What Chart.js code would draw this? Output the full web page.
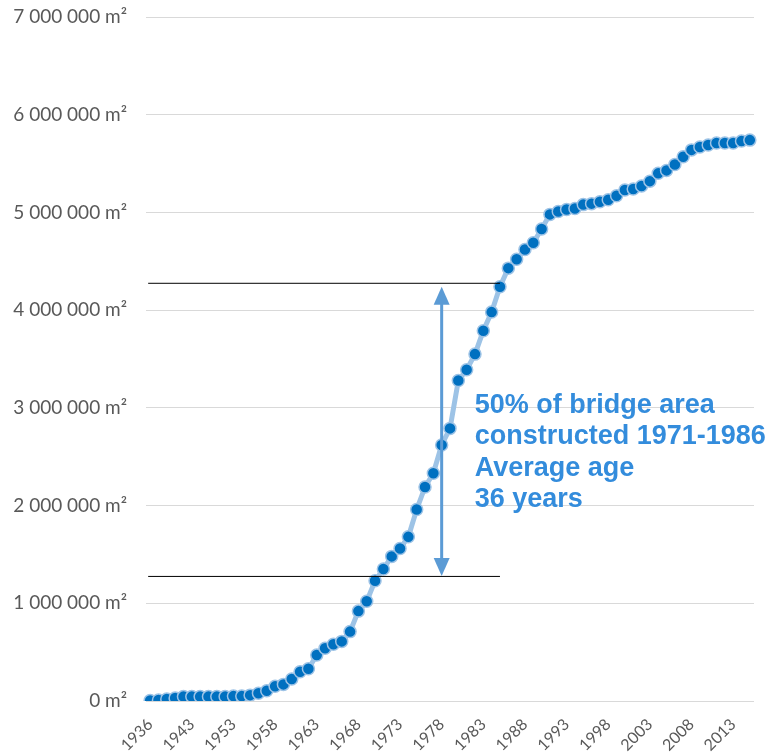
<!DOCTYPE html>
<html>
<head>
<meta charset="utf-8">
<script src="https://cdn.jsdelivr.net/npm/chart.js@4"></script>
<style>
  body { margin: 0; background: #fff; }
  #wrap { width: 765px; height: 755px; }
</style>
</head>
<body>
<div id="wrap"><canvas id="grafico" width="765" height="755"></canvas></div>
<script>
// years (only years with construction before 1953)
const years = [
  '1936', '1937', '1938', '1940', '1942', '1943', '1945', '1947', '1949', '1951',
  '1953', '1954', '1955', '1956', '1957', '1958', '1959', '1960', '1961', '1962',
  '1963', '1964', '1965', '1966', '1967', '1968', '1969', '1970', '1971', '1972',
  '1973', '1974', '1975', '1976', '1977', '1978', '1979', '1980', '1981', '1982',
  '1983', '1984', '1985', '1986', '1987', '1988', '1989', '1990', '1991', '1992',
  '1993', '1994', '1995', '1996', '1997', '1998', '1999', '2000', '2001', '2002',
  '2003', '2004', '2005', '2006', '2007', '2008', '2009', '2010', '2011', '2012',
  '2013', '2014', '2015'
];

// cumulative bridge area, m²
const areaM2 = [
  5000, 10000, 20000, 30000, 45000, 45000, 45000, 45000, 45000, 45000,
  50000, 50000, 60000, 80000, 105000, 150000, 170000, 225000, 300000, 330000,
  470000, 540000, 580000, 610000, 710000, 920000, 1020000, 1230000, 1350000, 1480000,
  1560000, 1680000, 1960000, 2190000, 2330000, 2620000, 2790000, 3280000, 3390000, 3550000,
  3790000, 3980000, 4240000, 4430000, 4520000, 4620000, 4690000, 4830000, 4980000, 5010000,
  5030000, 5040000, 5080000, 5090000, 5110000, 5130000, 5170000, 5230000, 5240000, 5270000,
  5320000, 5400000, 5430000, 5490000, 5570000, 5640000, 5670000, 5690000, 5710000, 5710000,
  5710000, 5730000, 5740000
];

const yTicks = [0, 1000000, 2000000, 3000000, 4000000, 5000000, 6000000, 7000000];

const noteLines = ['50% of bridge area', 'constructed 1971-1986', 'Average age', '36 years'];
const lowLevel = 1280000;
const highLevel = 4280000;

function fmtArea(v) {
  return String(v).replace(/\B(?=(\d{3})+(?!\d))/g, ' ') + ' m²';
}

function drawHead(ctx, x, y, dir) {
  ctx.beginPath();
  ctx.moveTo(x, y);
  ctx.lineTo(x - 8, y - dir * 18);
  ctx.lineTo(x + 8, y - dir * 18);
  ctx.closePath();
  ctx.fill();
}

const notePlugin = {
  id: 'note',
  afterDatasetsDraw(chart) {
    const ctx = chart.ctx;
    const xs = chart.scales.x;
    const ys = chart.scales.y;
    const x0 = xs.getPixelForValue(0) - 2;
    const x1 = xs.getPixelForValue(42);
    const yLo = ys.getPixelForValue(lowLevel);
    const yHi = ys.getPixelForValue(highLevel);
    ctx.save();
    // black reference lines
    ctx.strokeStyle = '#000';
    ctx.lineWidth = 1;
    ctx.beginPath();
    ctx.moveTo(x0, yHi + 0.5); ctx.lineTo(x1, yHi + 0.5);
    ctx.moveTo(x0, yLo + 0.5); ctx.lineTo(x1, yLo + 0.5);
    ctx.stroke();
    // double arrow at 1978
    const ax = xs.getPixelForValue(years.indexOf('1978'));
    ctx.strokeStyle = '#5b9bd5';
    ctx.fillStyle = '#5b9bd5';
    ctx.lineWidth = 3;
    ctx.beginPath();
    ctx.moveTo(ax, yHi + 16);
    ctx.lineTo(ax, yLo - 16);
    ctx.stroke();
    drawHead(ctx, ax, yHi + 4, -1);
    drawHead(ctx, ax, yLo, 1);
    // text
    ctx.fillStyle = '#338cdc';
    ctx.font = 'bold 27px "Liberation Sans", Arial, sans-serif';
    ctx.textAlign = 'left';
    ctx.textBaseline = 'alphabetic';
    const ty = ys.getPixelForValue(3000000) + 5;
    noteLines.forEach((t, i) => ctx.fillText(t, ax + 33, ty + i * 31.5));
    ctx.restore();
  }
};

new Chart(document.getElementById('grafico'), {
  type: 'line',
  data: {
    labels: years,
    datasets: [{
      label: 'Bridge area',
      data: areaM2,
      borderColor: '#9dc3e6',
      borderWidth: 5,
      pointBackgroundColor: '#0070c0',
      pointBorderColor: '#9dc3e6',
      pointBorderWidth: 1.5,
      pointRadius: 6,
      tension: 0
    }]
  },
  options: {
    responsive: false,
    animation: false,
    layout: { padding: { top: 17, right: 11, bottom: 0, left: 0 } },
    plugins: {
      legend: { display: false },
      tooltip: { enabled: false }
    },
    scales: {
      x: {
        offset: true,
        grid: { display: false },
        border: { display: false },
        ticks: {
          autoSkip: false,
          minRotation: 45,
          maxRotation: 45,
          padding: 6,
          color: '#595959',
          font: { family: 'Lato, "Open Sans", sans-serif', size: 16 },
          callback: (v, i) => (i % 5 === 0 ? years[i] : '')
        },
        afterFit: (s) => { s.height = 54; s.paddingLeft = 0; s.paddingRight = 0; }
      },
      y: {
        min: 0,
        max: 7000000,
        grid: { color: '#d9d9d9', drawTicks: false },
        border: { display: false },
        afterBuildTicks: (s) => { s.ticks = yTicks.map(v => ({ value: v })); },
        ticks: {
          padding: 19,
          color: '#595959',
          font: { family: 'Lato, "Open Sans", sans-serif', size: 19 },
          callback: (v) => fmtArea(v)
        },
        afterFit: (s) => { s.width = 146; s.paddingTop = 0; s.paddingBottom = 0; }
      }
    }
  },
  plugins: [notePlugin]
});
</script>
</body>
</html>
